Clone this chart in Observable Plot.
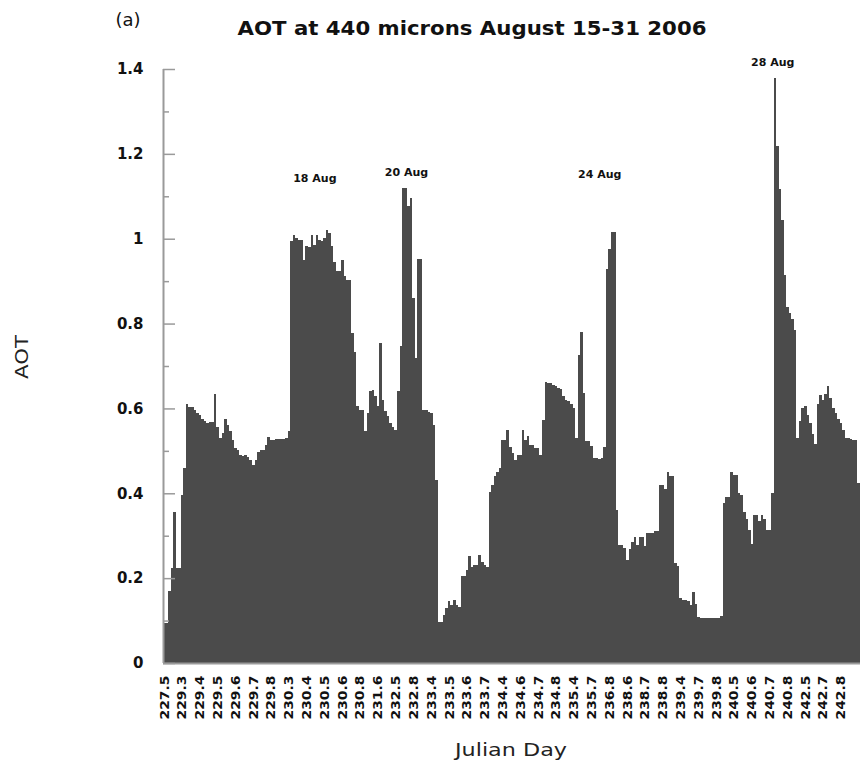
<!DOCTYPE html>
<html><head><meta charset="utf-8">
<script src="https://cdn.jsdelivr.net/npm/d3@7"></script>
<script src="https://cdn.jsdelivr.net/npm/@observablehq/plot@0.6"></script>
<style>body{margin:0;background:#fff} #chart{width:860px;height:765px}</style>
</head><body><div id="chart"></div><script>
// AOT at 440 nm, one value per measurement (bar)
const aot = [
0.094,0.094,0.17,0.223,0.355,0.223,0.223,0.395,0.459,0.611,
0.603,0.603,0.597,0.59,0.585,0.575,0.571,0.565,0.568,0.568,
0.634,0.557,0.53,0.542,0.575,0.56,0.546,0.526,0.506,0.502,
0.491,0.488,0.491,0.485,0.479,0.467,0.479,0.498,0.502,0.502,
0.514,0.532,0.526,0.526,0.528,0.528,0.528,0.528,0.53,0.546,
0.994,1.009,1.002,0.998,0.998,0.95,0.982,0.98,1.009,0.986,
1.009,0.998,0.994,1.002,1.02,1.013,0.982,0.944,0.923,0.923,
0.95,0.911,0.903,0.903,0.778,0.734,0.605,0.597,0.597,0.546,
0.589,0.64,0.644,0.63,0.605,0.754,0.62,0.593,0.581,0.565,
0.557,0.55,0.64,0.746,1.12,1.12,1.076,1.096,0.86,0.72,
0.952,0.952,0.597,0.597,0.592,0.59,0.561,0.432,0.097,0.097,
0.113,0.129,0.145,0.137,0.149,0.137,0.133,0.204,0.204,0.22,
0.252,0.226,0.23,0.23,0.255,0.238,0.23,0.226,0.404,0.42,
0.44,0.451,0.459,0.526,0.526,0.55,0.51,0.495,0.479,0.49,
0.49,0.55,0.526,0.534,0.514,0.514,0.506,0.506,0.49,0.573,
0.663,0.66,0.66,0.655,0.652,0.648,0.645,0.63,0.62,0.618,
0.61,0.6,0.53,0.726,0.779,0.636,0.524,0.524,0.512,0.483,
0.483,0.481,0.483,0.509,0.928,0.976,1.017,1.017,0.361,0.278,
0.278,0.271,0.243,0.268,0.286,0.298,0.278,0.298,0.298,0.275,
0.306,0.306,0.306,0.31,0.31,0.42,0.42,0.41,0.449,0.44,
0.44,0.235,0.228,0.153,0.149,0.149,0.145,0.137,0.168,0.14,
0.109,0.106,0.106,0.106,0.106,0.107,0.107,0.107,0.107,0.11,
0.377,0.392,0.392,0.451,0.443,0.443,0.4,0.396,0.356,0.339,
0.313,0.28,0.348,0.35,0.335,0.348,0.34,0.313,0.313,0.4,
1.379,1.218,1.116,1.045,0.915,0.84,0.824,0.811,0.785,0.531,
0.57,0.6,0.605,0.585,0.565,0.54,0.515,0.61,0.632,0.62,
0.635,0.652,0.625,0.6,0.59,0.575,0.565,0.55,0.53,0.53,
0.528,0.526,0.526,0.425
];
// Julian day labels shown under every 7th bar
const dayLabels = ["227.5","229.3","229.4","229.5","229.6","229.7","229.8","230.3","230.4","230.5",
"230.6","230.8","231.6","232.5","232.8","233.4","233.5","233.6","233.7","234.4",
"234.6","234.7","234.8","235.4","235.7","236.8","238.6","238.7","238.8","239.4",
"239.7","239.8","240.5","240.6","240.7","240.8","242.5","242.7","242.8"];
const labelStep = 7;
const yTicks = [0, 0.2, 0.4, 0.6, 0.8, 1, 1.2, 1.4];
const yMinor = [0.1, 0.3, 0.5, 0.7, 0.9, 1.1, 1.3];
// event annotations
const notes = ["18 Aug", "20 Aug", "24 Aug", "28 Aug"];
const noteBar = [59, 95, 171, 239];
const noteValue = [1.144, 1.158, 1.153, 1.417];

const tickPos = dayLabels.map((d, i) => i * labelStep + 0.5);
const axisGray = "#9a9a9a";

const chart = Plot.plot({
  width: 860, height: 765,
  marginLeft: 163, marginRight: 0, marginTop: 69, marginBottom: 102,
  style: {background: "#fff", fontFamily: "'DejaVu Sans', sans-serif", color: "#111"},
  x: {domain: [0, aot.length], axis: null},
  y: {domain: [0, 1.4], axis: null},
  marks: [
    Plot.rectY(aot, {x1: (d, i) => i, x2: (d, i) => i + 1, y1: 0, y2: d => d, fill: "#4b4b4b", shapeRendering: "crispEdges"}),
    Plot.ruleY([0], {stroke: axisGray, strokeWidth: 2}),
    Plot.ruleX([0], {stroke: axisGray, strokeWidth: 2}),
    Plot.axisY({ticks: yTicks, tickSize: 12, dx: 12, tickFormat: () => "", stroke: axisGray, strokeWidth: 1.5, label: null}),
    Plot.axisY({ticks: yMinor, tickSize: 6, dx: 6, tickFormat: () => "", stroke: axisGray, strokeWidth: 1.5, label: null}),
    Plot.axisY({ticks: yTicks, tickSize: 0, tickPadding: 20, tickFormat: d => String(d), fontSize: 15, fontWeight: "bold", fill: "#111", label: null}),
    Plot.axisX({ticks: tickPos, tickSize: 0, tickPadding: 12, tickRotate: -90,
      tickFormat: d => dayLabels[Math.round((d - 0.5) / labelStep)], fontSize: 12, fontWeight: "bold", fill: "#111", label: null}),
    Plot.text(notes, {x: (d, i) => noteBar[i] + 0.5, y: (d, i) => noteValue[i], text: d => d, fontSize: 11, fontWeight: "bold", fill: "#111"})
  ]
});
document.getElementById("chart").appendChild(chart);

const svg = d3.select(chart);
svg.selectAll('g[aria-label="x-axis tick label"] text')
  .attr("textLength", 44).attr("lengthAdjust", "spacingAndGlyphs");
svg.append("text").attr("x", 472).attr("y", 35).attr("text-anchor", "middle")
  .attr("font-size", 19).attr("font-weight", "bold").attr("fill", "#111")
  .attr("textLength", 469).attr("lengthAdjust", "spacingAndGlyphs")
  .text("AOT at 440 microns August 15-31 2006");
svg.append("text").attr("x", 128).attr("y", 26).attr("font-size", 18).attr("fill", "#111").text("(a)");
svg.append("text").attr("transform", "translate(28,357) rotate(-90)").attr("text-anchor", "middle")
  .attr("font-size", 17).attr("fill", "#222")
  .attr("textLength", 44).attr("lengthAdjust", "spacingAndGlyphs").text("AOT");
svg.append("text").attr("x", 511).attr("y", 756).attr("text-anchor", "middle")
  .attr("font-size", 17).attr("fill", "#222")
  .attr("textLength", 112).attr("lengthAdjust", "spacingAndGlyphs").text("Julian Day");
</script></body></html>
